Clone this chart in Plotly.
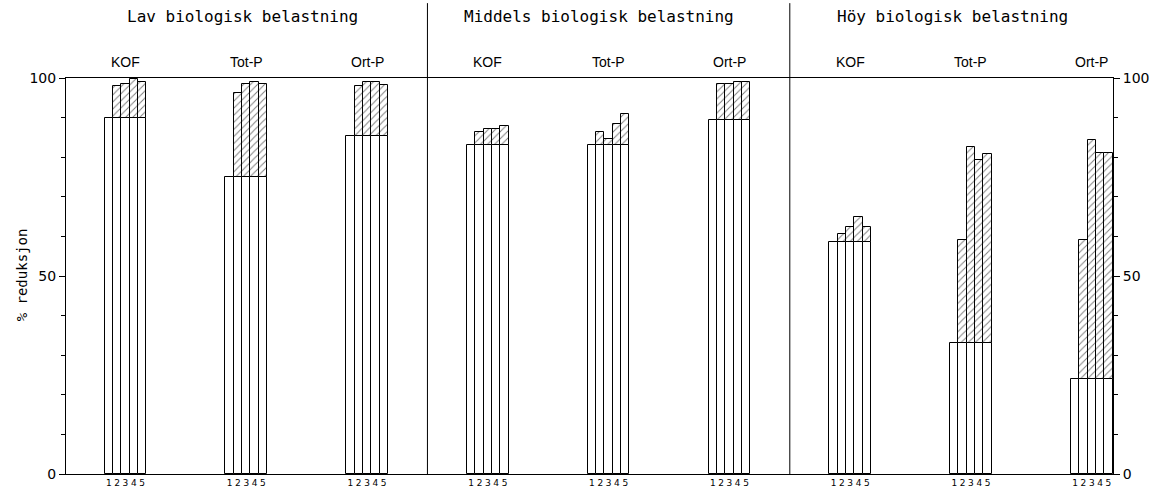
import plotly.graph_objects as go

# ---- data ----
loads = ["Lav biologisk belastning", "Middels biologisk belastning", "Höy biologisk belastning"]
params = ["KOF", "Tot-P", "Ort-P"]
bar_labels = ["1", "2", "3", "4", "5"]

# white (unhatched) part: reduction in step 1, per load/parameter group
base_pct = [90.0, 75.0, 85.3,   83.0, 83.0, 89.3,   58.5, 33.0, 24.0]
# total reduction reached by bars 2-5 (top of hatched part)
total_pct = [
    [98.0, 98.5, 99.8, 99.0],   # Lav KOF
    [96.3, 98.4, 99.1, 98.6],   # Lav Tot-P
    [98.1, 98.9, 98.9, 98.2],   # Lav Ort-P
    [86.4, 87.0, 87.0, 88.0],   # Middels KOF
    [86.4, 84.6, 88.4, 91.0],   # Middels Tot-P
    [98.5, 98.5, 99.1, 99.1],   # Middels Ort-P
    [60.5, 62.5, 64.8, 62.3],   # Höy KOF
    [59.2, 82.7, 79.3, 80.8],   # Höy Tot-P
    [59.0, 84.3, 81.0, 81.0],   # Höy Ort-P
]

# ---- layout helpers ----
GROUP_STEP = 14.5
n_groups = len(base_pct)

x_all, y_white, tick_text = [], [], []
x_hatch, y_hatch, b_hatch = [], [], []
for g in range(n_groups):
    for i, lab in enumerate(bar_labels):
        x = g * GROUP_STEP + i
        x_all.append(x)
        y_white.append(base_pct[g])
        tick_text.append(lab)
        if i > 0:
            top = total_pct[g][i - 1]
            x_hatch.append(x)
            b_hatch.append(base_pct[g])
            y_hatch.append(top - base_pct[g])

fig = go.Figure()
fig.add_trace(go.Bar(
    x=x_all, y=y_white, width=1.0,
    marker=dict(color="white", line=dict(color="black", width=1)),
    showlegend=False, hoverinfo="skip"))
fig.add_trace(go.Bar(
    x=x_hatch, y=y_hatch, base=b_hatch, width=1.0,
    marker=dict(color="white", line=dict(color="black", width=1),
                pattern=dict(shape="/", fgcolor="black", bgcolor="white",
                             size=5, solidity=0.2)),
    showlegend=False, hoverinfo="skip"))
# invisible trace to activate right axis
fig.add_trace(go.Scatter(x=[x_all[0]], y=[0], yaxis="y2", mode="markers",
                         marker=dict(opacity=0), showlegend=False, hoverinfo="skip"))

XMIN, XMAX = -5.14, 120.55
TOP, BOT = 78, 20
PH = 500 - TOP - BOT  # plot height in px


def py(px_from_top):
    """paper y for a pixel row measured from the top of the page"""
    return (500 - BOT - px_from_top) / PH


fig.update_layout(
    width=1162, height=500,
    margin=dict(l=66, r=41, t=TOP, b=BOT),
    paper_bgcolor="white", plot_bgcolor="white",
    barmode="overlay", bargap=0,
    font=dict(family="DejaVu Sans", color="black"),
    xaxis=dict(range=[XMIN, XMAX], showgrid=False, zeroline=False,
               showline=True, linecolor="black", linewidth=1, mirror=True,
               tickmode="array", tickvals=x_all, ticktext=tick_text,
               ticks="", tickfont=dict(size=9, family="DejaVu Sans", color="black"),
               tickangle=0),
    yaxis=dict(range=[0, 100], showgrid=False, zeroline=False,
               showline=True, linecolor="black", linewidth=1,
               tickmode="array", tickvals=[0, 50, 100], ticks="outside",
               ticklen=6, tickcolor="black", tickfont=dict(size=14, color="black"),
               minor=dict(dtick=10, ticks="outside", ticklen=4, tickcolor="black")),
    yaxis2=dict(range=[0, 100], overlaying="y", side="right", showgrid=False,
                zeroline=False, showline=True, linecolor="black", linewidth=1,
                tickmode="array", tickvals=[0, 50, 100], ticks="outside",
                ticklen=6, tickcolor="black", tickfont=dict(size=14, color="black"),
                minor=dict(dtick=10, ticks="outside", ticklen=4, tickcolor="black")),
)

# y-axis title
fig.add_annotation(text="% reduksjon", xref="paper", yref="paper",
                   x=(22 - 66) / 1055, y=py(278), textangle=-90,
                   showarrow=False, xanchor="center", yanchor="middle",
                   font=dict(size=14, family="DejaVu Sans Mono", color="black"))

# panel dividers
for xd in [(2 * GROUP_STEP + 4.5 + 3 * GROUP_STEP - 0.5) / 2,
           (5 * GROUP_STEP + 4.5 + 6 * GROUP_STEP - 0.5) / 2]:
    fig.add_shape(type="line", xref="x", yref="paper", x0=xd, x1=xd,
                  y0=0, y1=py(2), line=dict(color="black", width=1))

# panel titles
title_px = [244, 603, 959]
for t, px in zip(loads, title_px):
    fig.add_annotation(text=t, xref="paper", yref="paper",
                       x=(px - 66) / 1055, y=py(16),
                       showarrow=False, xanchor="center", yanchor="middle",
                       font=dict(size=16, family="DejaVu Sans Mono", color="black"))

# parameter labels above each group
for g in range(n_groups):
    fig.add_annotation(text=params[g % 3], xref="x", yref="paper",
                       x=g * GROUP_STEP + 2, y=py(62),
                       showarrow=False, xanchor="center", yanchor="middle",
                       font=dict(size=14, family="Liberation Sans", color="black"))

fig.write_html("out.html", config={"displayModeBar": False},
               post_script="document.body.style.margin='0';")
